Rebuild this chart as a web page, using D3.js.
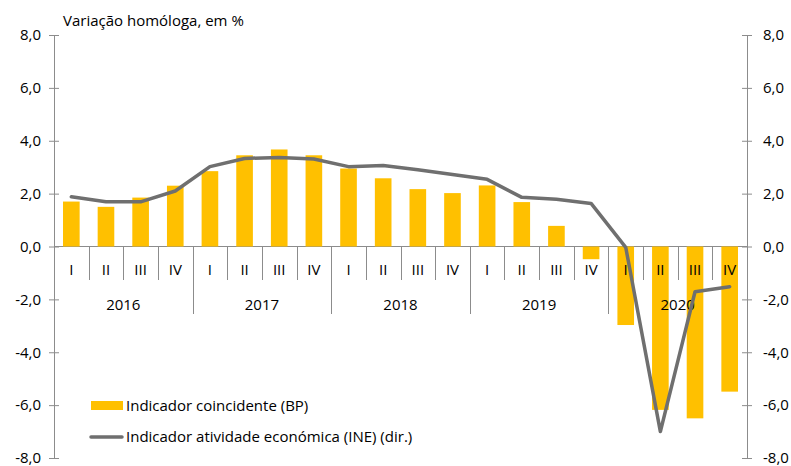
<!DOCTYPE html>
<html>
<head>
<meta charset="utf-8">
<script src="https://cdn.jsdelivr.net/npm/d3@7"></script>
<style>
  body { margin: 0; background: #fff; }
  text { font-family: "Open Sans", sans-serif; fill: #000; }
</style>
</head>
<body>
<svg id="chart" width="791" height="466"></svg>
<script>
// Quarterly year-on-year change, in %
const years = ["2016", "2017", "2018", "2019", "2020"];
const quarters = ["I", "II", "III", "IV"];
const coincidentBP = [1.7, 1.5, 1.85, 2.3, 2.85, 3.45, 3.67, 3.45, 2.95, 2.58, 2.17, 2.02, 2.31, 1.68, 0.78, -0.48, -2.97, -6.18, -6.5, -5.49];
const activityINE = [1.88, 1.69, 1.69, 2.1, 3.02, 3.33, 3.37, 3.31, 3.02, 3.06, 2.9, 2.72, 2.54, 1.86, 1.79, 1.63, -0.03, -7.0, -1.71, -1.52];
const yTicks = [-8, -6, -4, -2, 0, 2, 4, 6, 8];
const seriesNames = ["Indicador coincidente (BP)", "Indicador atividade económica (INE) (dir.)"];
const titleText = "Variação homóloga, em %";

const categories = years.flatMap(y => quarters.map(q => ({ year: y, quarter: q })));
categories.forEach((c, i) => { c.bp = coincidentBP[i]; c.ine = activityINE[i]; c.i = i; });

const barColor = "#FFC000";
const lineColor = "#6f6f6f";
const axisColor = "#8c8c8c";

const svg = d3.select("#chart");
const plotLeft = 54, plotRight = 747, plotTop = 35, plotBottom = 458;

const x = d3.scaleBand().domain(d3.range(categories.length)).range([plotLeft, plotRight]).padding(0);
const yL = d3.scaleLinear().domain([-8, 8]).range([plotBottom, plotTop]);
const yR = d3.scaleLinear().domain([-8, 8]).range([plotBottom, plotTop]);
const fmt = d => d.toFixed(1).replace(".", ",");

const y0 = yL(0);
const step = x.step();

// zero line and category separators
svg.append("line").attr("x1", plotLeft).attr("x2", plotRight).attr("y1", y0).attr("y2", y0)
  .attr("stroke", axisColor).attr("stroke-width", 1);
const sep = svg.append("g").attr("class", "separators");
d3.range(1, categories.length).forEach(i => {
  const xx = Math.round(plotLeft + i * step) + 0.5;
  sep.append("line").attr("x1", xx).attr("x2", xx).attr("y1", y0)
    .attr("y2", i % 4 === 0 ? 314 : 280)
    .attr("stroke", axisColor).attr("stroke-width", 1);
});

// bars
const barW = step * 0.48;
svg.append("g").selectAll("rect").data(categories).join("rect")
  .attr("x", d => x(d.i) + (step - barW) / 2)
  .attr("width", barW)
  .attr("y", d => yL(Math.max(0, d.bp)))
  .attr("height", d => Math.abs(yL(d.bp) - yL(0)))
  .attr("fill", barColor);

// quarter and year labels
svg.append("g").selectAll("text").data(categories).join("text")
  .attr("x", d => x(d.i) + step / 2)
  .attr("y", 270).attr("dy", "0.35em")
  .attr("text-anchor", "middle").attr("font-size", 15)
  .text(d => d.quarter);
svg.append("g").selectAll("text").data(years).join("text")
  .attr("x", (d, j) => plotLeft + (j * 4 + 2) * step)
  .attr("y", 305).attr("dy", "0.35em")
  .attr("text-anchor", "middle").attr("font-size", 15)
  .text(d => d);

// value axes
const axL = svg.append("g").attr("transform", `translate(${plotLeft},0)`)
  .call(d3.axisLeft(yL).tickValues(yTicks).tickFormat(fmt).tickSize(5).tickSizeOuter(0).tickPadding(8));
const axR = svg.append("g").attr("transform", `translate(${plotRight},0)`)
  .call(d3.axisRight(yR).tickValues(yTicks).tickFormat(fmt).tickSize(5).tickSizeOuter(0).tickPadding(11));
[axL, axR].forEach(ax => {
  ax.select(".domain").attr("stroke", axisColor);
  ax.selectAll(".tick line").attr("stroke", axisColor).attr("x1", -5).attr("x2", 5);
  ax.selectAll(".tick text").attr("font-size", 15).attr("font-family", "Open Sans, sans-serif").attr("fill", "#000");
});

// activity line (right axis)
const line = d3.line().x(d => x(d.i) + step / 2).y(d => yR(d.ine));
svg.append("path").datum(categories)
  .attr("d", line).attr("fill", "none")
  .attr("stroke", lineColor).attr("stroke-width", 3.5)
  .attr("stroke-linejoin", "round").attr("stroke-linecap", "round");

// title
svg.append("text").attr("x", 63).attr("y", 26).attr("font-size", 15).text(titleText);

// legend
const lg = svg.append("g");
lg.append("rect").attr("x", 91).attr("y", 401).attr("width", 32).attr("height", 9).attr("fill", barColor);
lg.append("text").attr("x", 126).attr("y", 406).attr("dy", "0.35em").attr("font-size", 15).text(seriesNames[0]);
lg.append("line").attr("x1", 91).attr("x2", 122).attr("y1", 437).attr("y2", 437)
  .attr("stroke", lineColor).attr("stroke-width", 3.5).attr("stroke-linecap", "round");
lg.append("text").attr("x", 126).attr("y", 437).attr("dy", "0.35em").attr("font-size", 15).text(seriesNames[1]);
</script>
</body>
</html>
